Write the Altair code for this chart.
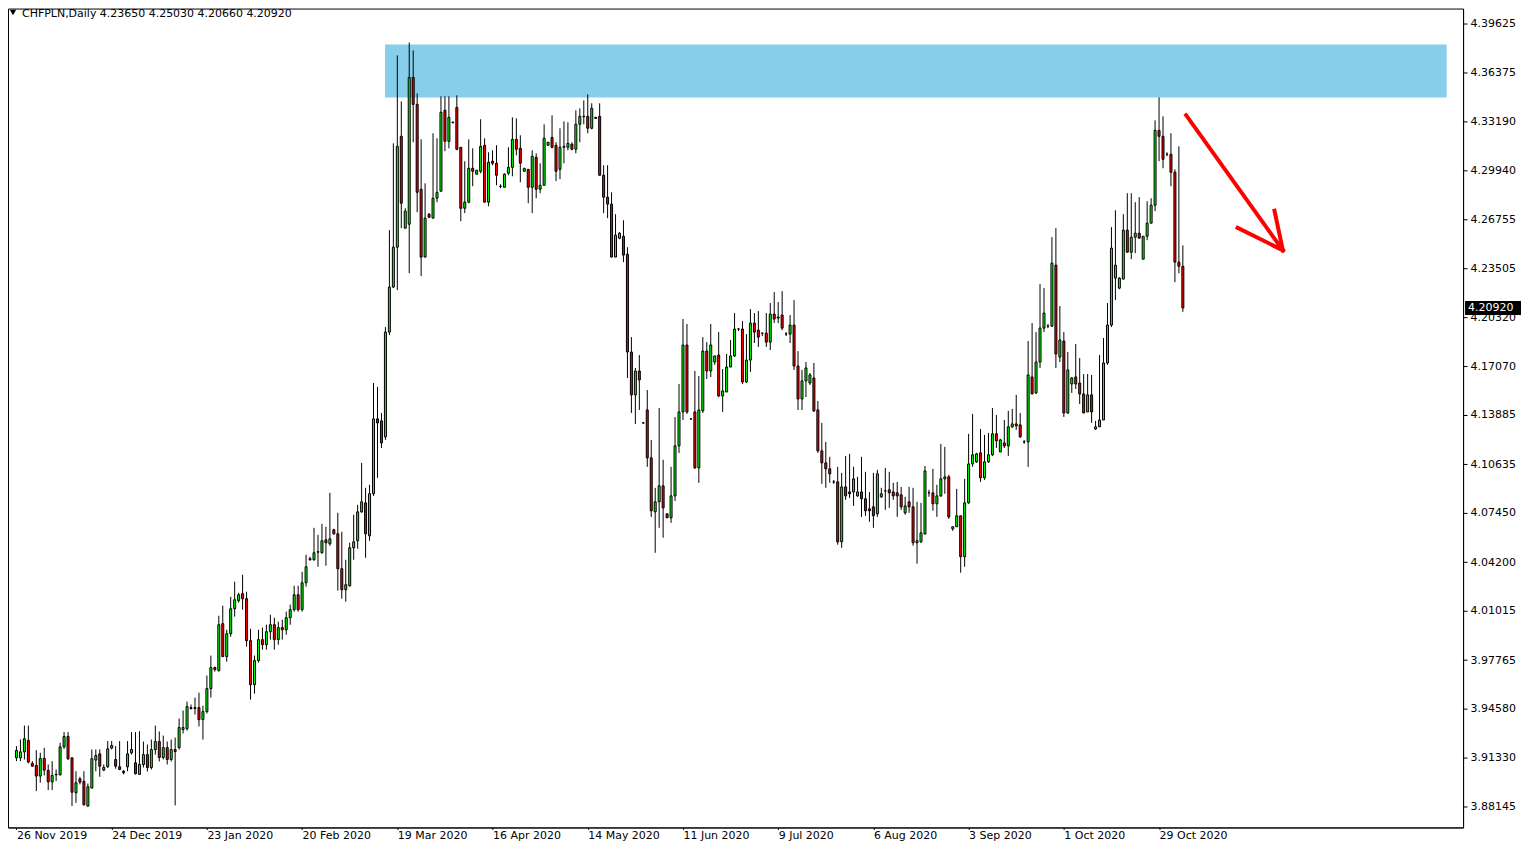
import altair as alt
import pandas as pd

# ---------------- data (CHFPLN daily candles) ----------------
bar_open = [
    3.9134, 3.9134, 3.9173, 3.9248, 3.9097, 3.9084, 3.9014, 3.9130, 3.9051, 3.8976,
    3.9022, 3.9022, 3.9206, 3.9274, 3.9134, 3.8904, 3.8996, 3.8979, 3.8817, 3.8935,
    3.9119, 3.9160, 3.9053, 3.9075, 3.9198, 3.9123, 3.9075, 3.9046, 3.9075, 3.9167,
    3.9101, 3.9025, 3.9090, 3.9155, 3.9070, 3.9188, 3.9241, 3.9136, 3.9201, 3.9123,
    3.9188, 3.9201, 3.9320, 3.9326, 3.9458, 3.9464, 3.9464, 3.9385, 3.9438, 3.9589,
    3.9727, 3.9707, 4.0016, 3.9799, 3.9950, 4.0114, 4.0167, 4.0213, 4.0180, 3.9904,
    3.9615, 3.9773, 3.9911, 3.9878, 3.9963, 4.0009, 3.9911, 3.9990, 3.9976, 4.0055,
    4.0108, 4.0206, 4.0108, 4.0285, 4.0443, 4.0436, 4.0489, 4.0482, 4.0567, 4.0541,
    4.0633, 4.0607, 4.0377, 4.0239, 4.0265, 4.0515, 4.0561, 4.0751, 4.0810, 4.0594,
    4.0870, 4.1362, 4.1349, 4.1244, 4.1933, 4.2229, 4.2491, 4.3220, 4.2616, 4.2642,
    4.3607, 4.3430, 4.2872, 4.2426, 4.2708, 4.2682, 4.2813, 4.2859, 4.3391, 4.3187,
    4.3312, 4.3410, 4.3148, 4.2747, 4.2787, 4.3010, 4.2971, 4.2990, 4.3161, 4.2787,
    4.3056, 4.3043, 4.2892, 4.2885, 4.2977, 4.3016, 4.3200, 4.3141, 4.2990, 4.3003,
    4.2885, 4.3082, 4.2872, 4.2898, 4.3161, 4.3213, 4.3161, 4.3003, 4.3148, 4.3148,
    4.3168, 4.3135, 4.3299, 4.3351, 4.3351, 4.3273, 4.3345, 4.3351, 4.2964, 4.2820,
    4.2774, 4.2426, 4.2550, 4.2563, 4.2445, 4.1802, 4.1520, 4.1677, 4.1336, 4.1421,
    4.1106, 4.0751, 4.0817, 4.0922, 4.0738, 4.0712, 4.0856, 4.1185, 4.1408, 4.1848,
    4.1362, 4.1408, 4.1040, 4.1415, 4.1808, 4.1677, 4.1736, 4.1782, 4.1513, 4.1539,
    4.1703, 4.1776, 4.1953, 4.1953, 4.1605, 4.1749, 4.1992, 4.1946, 4.1926, 4.1926,
    4.1867, 4.2051, 4.2025, 4.2045, 4.1920, 4.1920, 4.1979, 4.1710, 4.1493, 4.1612,
    4.1598, 4.1631, 4.1421, 4.1152, 4.1073, 4.1034, 4.0948, 4.0948, 4.0554, 4.0915,
    4.0882, 4.0882, 4.0856, 4.0882, 4.0837, 4.0771, 4.0784, 4.0738, 4.0850, 4.0889,
    4.0896, 4.0882, 4.0876, 4.0863, 4.0745, 4.0817, 4.0784, 4.0548, 4.0554, 4.0607,
    4.0876, 4.0876, 4.0804, 4.0856, 4.0968, 4.0981, 4.0640, 4.0653, 4.0725, 4.0456,
    4.0810, 4.1066, 4.1080, 4.1139, 4.0975, 4.1080, 4.1126, 4.1264, 4.1145, 4.1204,
    4.1185, 4.1310, 4.1329, 4.1323, 4.1211, 4.1211, 4.1638, 4.1533, 4.1736, 4.1959,
    4.1972, 4.1972, 4.2373, 4.1769, 4.1874, 4.1401, 4.1592, 4.1638, 4.1598, 4.1526,
    4.1408, 4.1520, 4.1296, 4.1310, 4.1355, 4.1730, 4.1979, 4.2288, 4.2222, 4.2281,
    4.2603, 4.2458, 4.2557, 4.2583, 4.2412, 4.2563, 4.2649, 4.2767, 4.3259, 4.3220,
    4.3102, 4.3102, 4.2984, 4.2393, 4.23650,
]
bar_high = [
    3.9211, 3.9255, 3.9346, 3.9346, 3.9112, 3.9184, 3.9167, 3.9200, 3.9090, 3.9112,
    3.9057, 3.9233, 3.9303, 3.9303, 3.9134, 3.9046, 3.9009, 3.9046, 3.8965, 3.9189,
    3.9189, 3.9189, 3.9090, 3.9244, 3.9244, 3.9211, 3.9244, 3.9053, 3.9244, 3.9303,
    3.9303, 3.9309, 3.9241, 3.9221, 3.9254, 3.9346, 3.9307, 3.9280, 3.9241, 3.9254,
    3.9267, 3.9392, 3.9445, 3.9504, 3.9484, 3.9530, 3.9563, 3.9477, 3.9675, 3.9806,
    3.9734, 4.0068, 4.0134, 3.9976, 4.0193, 4.0292, 4.0219, 4.0338, 4.0226, 3.9983,
    3.9806, 3.9976, 3.9990, 4.0009, 4.0075, 4.0055, 4.0029, 4.0042, 4.0095, 4.0141,
    4.0265, 4.0265, 4.0357, 4.0469, 4.0456, 4.0646, 4.0600, 4.0672, 4.0653, 4.0876,
    4.0640, 4.0745, 4.0620, 4.0436, 4.0548, 4.0732, 4.0797, 4.1073, 4.0909, 4.0929,
    4.1598, 4.1572, 4.1401, 4.1966, 4.2603, 4.3174, 4.3752, 4.3450, 4.2747, 4.3837,
    4.3785, 4.3502, 4.3200, 4.2911, 4.2715, 4.3240, 4.3207, 4.3483, 4.3483, 4.3483,
    4.3318, 4.3489, 4.3148, 4.3056, 4.3200, 4.3141, 4.2997, 4.3332, 4.3207, 4.3115,
    4.3128, 4.3161, 4.2905, 4.2977, 4.3148, 4.3345, 4.3338, 4.3227, 4.3010, 4.3003,
    4.3128, 4.3108, 4.3043, 4.3299, 4.3181, 4.3358, 4.3181, 4.3273, 4.3318, 4.3312,
    4.3181, 4.3391, 4.3404, 4.3456, 4.3496, 4.3437, 4.3345, 4.3437, 4.3030, 4.3030,
    4.2852, 4.2708, 4.2590, 4.2668, 4.2491, 4.1900, 4.1697, 4.1782, 4.1342, 4.1552,
    4.1224, 4.0909, 4.1434, 4.1093, 4.0738, 4.1047, 4.1375, 4.1592, 4.2019, 4.1986,
    4.1364, 4.1677, 4.1644, 4.1900, 4.1867, 4.1986, 4.1776, 4.1933, 4.1690, 4.1789,
    4.1881, 4.2058, 4.1959, 4.2006, 4.1920, 4.2084, 4.2058, 4.2071, 4.1928, 4.2058,
    4.2124, 4.2196, 4.2130, 4.2202, 4.1933, 4.2045, 4.2143, 4.1808, 4.1684, 4.1736,
    4.1664, 4.1730, 4.1480, 4.1336, 4.1211, 4.1113, 4.0961, 4.1047, 4.1007, 4.1119,
    4.1132, 4.1047, 4.0981, 4.1113, 4.1014, 4.0882, 4.1007, 4.1027, 4.0909, 4.1040,
    4.1014, 4.0942, 4.0948, 4.0915, 4.0850, 4.0915, 4.0909, 4.0817, 4.0810, 4.1053,
    4.0896, 4.1034, 4.0929, 4.1198, 4.1178, 4.0994, 4.0653, 4.0902, 4.0725, 4.0968,
    4.1264, 4.1395, 4.1139, 4.1296, 4.1257, 4.1270, 4.1434, 4.1388, 4.1231, 4.1355,
    4.1415, 4.1428, 4.1520, 4.1401, 4.1224, 4.1874, 4.1992, 4.1933, 4.2248, 4.2222,
    4.1986, 4.2557, 4.2616, 4.2104, 4.1933, 4.1802, 4.1638, 4.1854, 4.1762, 4.1657,
    4.1657, 4.1651, 4.1349, 4.1782, 4.1894, 4.2124, 4.2623, 4.2734, 4.2294, 4.2708,
    4.2846, 4.2846, 4.2787, 4.2820, 4.2563, 4.2793, 4.2813, 4.3325, 4.3476, 4.3351,
    4.3115, 4.3240, 4.3003, 4.3154, 4.25030,
]
bar_low = [
    3.9112, 3.9112, 3.9123, 3.9097, 3.9075, 3.8915, 3.8970, 3.9018, 3.8922, 3.8922,
    3.8981, 3.9018, 3.9193, 3.9119, 3.8817, 3.8838, 3.8959, 3.8821, 3.8812, 3.8935,
    3.9046, 3.9009, 3.9046, 3.9068, 3.9189, 3.9062, 3.9053, 3.9025, 3.9046, 3.9156,
    3.9025, 3.9025, 3.9070, 3.9044, 3.9057, 3.9155, 3.9110, 3.9123, 3.9090, 3.9110,
    3.8821, 3.9188, 3.9294, 3.9313, 3.9451, 3.9418, 3.9340, 3.9254, 3.9425, 3.9530,
    3.9701, 3.9701, 3.9799, 3.9766, 3.9930, 4.0062, 4.0154, 4.0108, 3.9865, 3.9517,
    3.9556, 3.9760, 3.9845, 3.9845, 3.9911, 3.9845, 3.9878, 3.9911, 3.9944, 4.0009,
    4.0095, 4.0095, 4.0095, 4.0259, 4.0430, 4.0430, 4.0390, 4.0476, 4.0397, 4.0528,
    4.0600, 4.0233, 4.0180, 4.0160, 4.0259, 4.0436, 4.0508, 4.0745, 4.0449, 4.0561,
    4.0856, 4.0975, 4.1171, 4.1224, 4.1913, 4.2222, 4.2209, 4.2616, 4.2616, 4.2320,
    4.3181, 4.2721, 4.2301, 4.2426, 4.2682, 4.2682, 4.2787, 4.2859, 4.3122, 4.3141,
    4.3305, 4.3128, 4.2662, 4.2715, 4.2780, 4.2892, 4.2971, 4.2977, 4.2787, 4.2760,
    4.3030, 4.2898, 4.2879, 4.2885, 4.2964, 4.2957, 4.3095, 4.2918, 4.2990, 4.2780,
    4.2715, 4.2813, 4.2846, 4.2898, 4.3161, 4.3141, 4.2925, 4.2938, 4.3043, 4.3128,
    4.3128, 4.3108, 4.3181, 4.3299, 4.3240, 4.3266, 4.3338, 4.2964, 4.2715, 4.2682,
    4.2426, 4.2426, 4.2544, 4.2393, 4.1631, 4.1401, 4.1329, 4.1421, 4.1329, 4.1047,
    4.0718, 4.0482, 4.0646, 4.0581, 4.0712, 4.0679, 4.0823, 4.1138, 4.1355, 4.1395,
    4.1355, 4.1034, 4.0942, 4.1401, 4.1625, 4.1638, 4.1717, 4.1506, 4.1408, 4.1539,
    4.1703, 4.1769, 4.1940, 4.1592, 4.1598, 4.1671, 4.1861, 4.1835, 4.1907, 4.1835,
    4.1815, 4.1992, 4.1992, 4.1946, 4.1907, 4.1861, 4.1684, 4.1421, 4.1421, 4.1506,
    4.1585, 4.1408, 4.1139, 4.0935, 4.0909, 4.0942, 4.0935, 4.0535, 4.0515, 4.0830,
    4.0843, 4.0790, 4.0850, 4.0718, 4.0725, 4.0686, 4.0646, 4.0718, 4.0843, 4.0764,
    4.0777, 4.0830, 4.0718, 4.0764, 4.0732, 4.0745, 4.0528, 4.0410, 4.0548, 4.0600,
    4.0850, 4.0758, 4.0718, 4.0850, 4.0870, 4.0705, 4.0626, 4.0653, 4.0351, 4.0390,
    4.0804, 4.1047, 4.1073, 4.0948, 4.0961, 4.1073, 4.1119, 4.1171, 4.1145, 4.1171,
    4.1119, 4.1303, 4.1290, 4.1237, 4.1198, 4.1047, 4.1526, 4.1526, 4.1697, 4.1933,
    4.1959, 4.1966, 4.1697, 4.1736, 4.1375, 4.1395, 4.1533, 4.1559, 4.1460, 4.1401,
    4.1408, 4.1336, 4.1290, 4.1310, 4.1355, 4.1717, 4.1966, 4.2143, 4.2215, 4.2281,
    4.2458, 4.2412, 4.2452, 4.2550, 4.2412, 4.2537, 4.2649, 4.2728, 4.3056, 4.3010,
    4.3089, 4.2892, 4.2261, 4.2320, 4.20660,
]
bar_close = [
    3.9182, 3.9173, 3.9259, 3.9106, 3.9079, 3.9014, 3.9130, 3.9053, 3.8976, 3.9018,
    3.9025, 3.9206, 3.9274, 3.9128, 3.8908, 3.8970, 3.8974, 3.8825, 3.8944, 3.9128,
    3.9149, 3.9079, 3.9071, 3.9193, 3.9215, 3.9079, 3.9057, 3.9036, 3.9160, 3.9189,
    3.9029, 3.9090, 3.9155, 3.9070, 3.9188, 3.9241, 3.9136, 3.9201, 3.9123, 3.9188,
    3.9175, 3.9333, 3.9333, 3.9471, 3.9464, 3.9458, 3.9385, 3.9438, 3.9589, 3.9727,
    3.9714, 4.0009, 3.9799, 3.9950, 4.0114, 4.0173, 4.0206, 4.0180, 3.9904, 3.9615,
    3.9773, 3.9911, 3.9878, 3.9963, 4.0009, 3.9911, 3.9990, 3.9976, 4.0055, 4.0108,
    4.0206, 4.0108, 4.0285, 4.0390, 4.0436, 4.0482, 4.0486, 4.0561, 4.0548, 4.0574,
    4.0607, 4.0377, 4.0239, 4.0272, 4.0515, 4.0554, 4.0751, 4.0817, 4.0607, 4.0870,
    4.1362, 4.1336, 4.1204, 4.1933, 4.2229, 4.2491, 4.3154, 4.2780, 4.2728, 4.3607,
    4.3430, 4.2852, 4.2426, 4.2682, 4.2688, 4.2813, 4.2852, 4.3378, 4.3187, 4.3345,
    4.3310, 4.3135, 4.2747, 4.2787, 4.3010, 4.2990, 4.2997, 4.3154, 4.2787, 4.3049,
    4.3043, 4.2964, 4.2890, 4.2971, 4.3016, 4.3200, 4.3135, 4.3043, 4.3010, 4.2885,
    4.3089, 4.2872, 4.2898, 4.3207, 4.3181, 4.3148, 4.2990, 4.3148, 4.3154, 4.3174,
    4.3135, 4.3299, 4.3351, 4.3349, 4.3273, 4.3404, 4.3338, 4.2964, 4.2820, 4.2774,
    4.2426, 4.2570, 4.2583, 4.2439, 4.1802, 4.1520, 4.1677, 4.1618, 4.1336, 4.1106,
    4.0758, 4.0817, 4.0922, 4.0777, 4.0712, 4.0856, 4.1185, 4.1408, 4.1848, 4.1408,
    4.1362, 4.1040, 4.1421, 4.1808, 4.1677, 4.1848, 4.1776, 4.1513, 4.1546, 4.1703,
    4.1776, 4.1953, 4.1953, 4.1605, 4.1749, 4.1992, 4.1933, 4.1900, 4.1926, 4.1867,
    4.2051, 4.2019, 4.2032, 4.1959, 4.1920, 4.1979, 4.1710, 4.1493, 4.1612, 4.1697,
    4.1651, 4.1415, 4.1152, 4.1073, 4.1034, 4.1001, 4.0948, 4.0554, 4.0915, 4.0856,
    4.0870, 4.0968, 4.0882, 4.0837, 4.0758, 4.0758, 4.0725, 4.1001, 4.0870, 4.0889,
    4.0876, 4.0856, 4.0856, 4.0784, 4.0790, 4.0784, 4.0548, 4.0561, 4.0613, 4.1020,
    4.0876, 4.0804, 4.0856, 4.0968, 4.0981, 4.0718, 4.0653, 4.0725, 4.0456, 4.0810,
    4.1066, 4.1126, 4.1132, 4.0975, 4.1080, 4.1126, 4.1264, 4.1218, 4.1224, 4.1185,
    4.1310, 4.1329, 4.1316, 4.1244, 4.1211, 4.1651, 4.1526, 4.1736, 4.1959, 4.2058,
    4.1972, 4.2386, 4.1789, 4.1881, 4.1401, 4.1684, 4.1631, 4.1592, 4.1526, 4.1401,
    4.1520, 4.1408, 4.1310, 4.1355, 4.1730, 4.1979, 4.2485, 4.2373, 4.2288, 4.2603,
    4.2458, 4.2557, 4.2583, 4.2550, 4.2563, 4.2649, 4.2767, 4.3259, 4.3220, 4.3069,
    4.3102, 4.2984, 4.2393, 4.2366, 4.20920,
]

# date labels on the time axis (every 24 bars)
tick_bars = [0, 24, 48, 72, 96, 120, 144, 168, 192, 216, 240, 264, 288]
tick_labels = ["26 Nov 2019", "24 Dec 2019", "23 Jan 2020", "20 Feb 2020", "19 Mar 2020",
               "16 Apr 2020", "14 May 2020", "11 Jun 2020", "9 Jul 2020", "6 Aug 2020",
               "3 Sep 2020", "1 Oct 2020", "29 Oct 2020"]

# price scale labels
price_ticks = [4.39625, 4.36375, 4.33190, 4.29940, 4.26755, 4.23505, 4.20320, 4.17070,
               4.13885, 4.10635, 4.07450, 4.04200, 4.01015, 3.97765, 3.94580, 3.91330, 3.88145]

# resistance zone (bar index range, price range)
zone_start = [92.9]
zone_end = [360.5]
zone_top = [4.3824]
zone_bottom = [4.3476]

# red arrow: three strokes ending at the tip
arrow_from_bar = [294.85, 307.8, 317.1]
arrow_from_price = [4.3358, 4.2618, 4.2731]
arrow_to_bar = [319.2, 319.2, 319.2]
arrow_to_price = [4.2471, 4.2471, 4.2471]

symbol = "CHFPLN,Daily"

# ---------------- chart ----------------
n = len(bar_close)
df = pd.DataFrame({"i": list(range(n)), "open": bar_open, "high": bar_high,
                   "low": bar_low, "close": bar_close})
df["dir"] = ["up" if c >= o else "down" for o, c in zip(bar_open, bar_close)]

zone_df = pd.DataFrame({"x0": zone_start, "x1": zone_end, "top": zone_top, "bottom": zone_bottom})
arrow_df = pd.DataFrame({"x": arrow_from_bar, "y": arrow_from_price,
                         "x2": arrow_to_bar, "y2": arrow_to_price})
last_df = pd.DataFrame({"price": [bar_close[-1]], "label": [f"{bar_close[-1]:.5f}"]})
title_text = (f"{symbol}  {bar_open[-1]:.5f} {bar_high[-1]:.5f} "
              f"{bar_low[-1]:.5f} {bar_close[-1]:.5f}")
title_df = pd.DataFrame({"t": [title_text]})

FONT = "DejaVu Sans"
W, H = 1457, 820
BAR_PX = 4.0  # MT4 zoom: 4 px per bar
x0 = -0.875
x_scale = alt.Scale(domain=[x0, x0 + W / BAR_PX], nice=False, zero=False)
y_scale = alt.Scale(domain=[3.8676, 4.4060], nice=False, zero=False)

label_expr = " : ".join(f"datum.value == {b} ? '{t}'" for b, t in zip(tick_bars, tick_labels)) + " : ''"

x_axis = alt.Axis(values=tick_bars, labelExpr=label_expr, labelAlign="left", labelBaseline="top",
                  labelPadding=0, tickSize=2, grid=False, title=None, labelFont=FONT,
                  labelFontSize=11, labelColor="black", domainColor="black", tickColor="black",
                  labelFlush=False, labelOverlap=False, labelBound=False)
y_axis = alt.Axis(orient="right", values=price_ticks, format=".5f", tickSize=4, labelPadding=3,
                  grid=False, title=None, labelFont=FONT, labelFontSize=11, labelColor="black",
                  domainColor="black", tickColor="black", labelOverlap=False, labelFlush=False,
                  labelBound=False)

zone = alt.Chart(zone_df).mark_rect(color="#87CEEB", opacity=1).encode(
    x=alt.X("x0:Q", scale=x_scale, axis=x_axis),
    x2="x1:Q",
    y=alt.Y("top:Q", scale=y_scale, axis=y_axis),
    y2="bottom:Q",
)

wicks = alt.Chart(df).mark_rule(color="black", strokeWidth=1).encode(
    x=alt.X("i:Q", scale=x_scale),
    y=alt.Y("low:Q", scale=y_scale),
    y2="high:Q",
)

bodies = alt.Chart(df).mark_bar(width=2, stroke="black", strokeWidth=1).encode(
    x=alt.X("i:Q", scale=x_scale),
    y=alt.Y("open:Q", scale=y_scale),
    y2="close:Q",
    color=alt.Color("dir:N", scale=alt.Scale(domain=["up", "down"], range=["#00FF00", "#FF0000"]),
                    legend=None),
)

arrow = alt.Chart(arrow_df).mark_rule(color="#FF0000", strokeWidth=4, strokeCap="square").encode(
    x=alt.X("x:Q", scale=x_scale),
    y=alt.Y("y:Q", scale=y_scale),
    x2="x2:Q",
    y2="y2:Q",
)

title_mark = alt.Chart(title_df).mark_text(align="left", baseline="alphabetic", font=FONT,
                                           fontSize=11, color="black").encode(
    x=alt.value(14), y=alt.value(8), text="t:N")
tri_mark = alt.Chart(title_df).mark_point(shape="triangle-down", filled=True, color="black",
                                          size=40, opacity=1).encode(
    x=alt.value(5), y=alt.value(4))

tag_box = alt.Chart(last_df).mark_point(
    shape="M-1,-0.25L1,-0.25L1,0.25L-1,0.25Z", filled=True, color="black", size=3136, opacity=1
).encode(x=alt.value(W + 30), y=alt.Y("price:Q", scale=y_scale))
tag_text = alt.Chart(last_df).mark_text(align="left", baseline="middle", font=FONT, fontSize=11,
                                        color="white").encode(
    x=alt.value(W + 5), y=alt.Y("price:Q", scale=y_scale), text="label:N")

chart = alt.layer(zone, wicks, bodies, arrow, title_mark, tri_mark, tag_box, tag_text).properties(
    width=W, height=H, background="white",
    padding={"left": 0, "top": 0, "right": 59, "bottom": 14},
    autosize=alt.AutoSizeParams(type="none"),
).configure_view(stroke="black", strokeWidth=1)

chart.save("out.html", embed_options={"renderer": "svg", "actions": False})
